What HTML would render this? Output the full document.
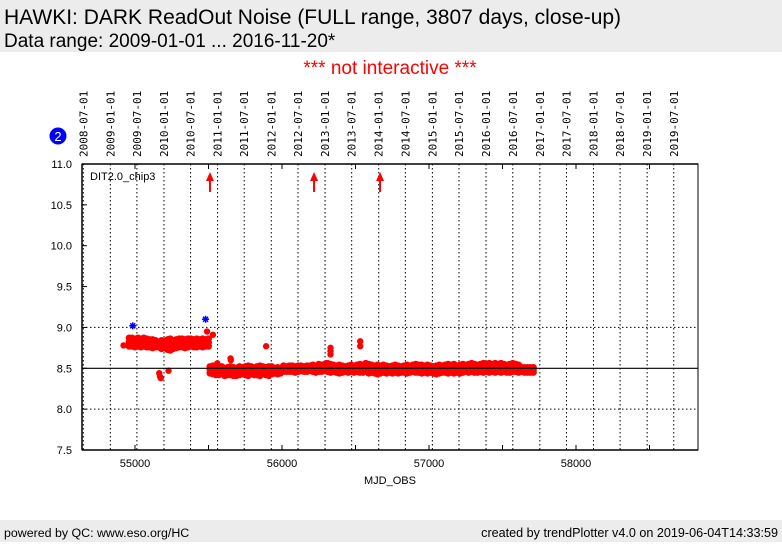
<!DOCTYPE html>
<html><head><meta charset="utf-8"><style>
body{margin:0;width:782px;height:542px;overflow:hidden;background:#fff;font-family:"Liberation Sans","DejaVu Sans",sans-serif}
</style></head><body>
<svg id="chart" width="782" height="542" xmlns="http://www.w3.org/2000/svg" font-family="Liberation Sans, DejaVu Sans, sans-serif">
<rect x="0" y="0" width="782" height="52" fill="#ececec"/>
<text x="4" y="24" font-size="21">HAWKI: DARK ReadOut Noise (FULL range, 3807 days, close-up)</text>
<text x="4" y="47" font-size="19">Data range: 2009-01-01 ... 2016-11-20*</text>
<text x="390" y="74" font-size="19" fill="#ff0000" text-anchor="middle">*** not interactive ***</text>
<circle cx="58" cy="136" r="8.5" fill="#0000ff"/>
<text x="58" y="141" font-size="13" fill="#fff" text-anchor="middle">2</text>
<g id="grid"></g>
<g id="pts"></g>
<line x1="82" y1="368.3" x2="698" y2="368.3" stroke="#000" stroke-width="1.2"/>
<g id="axes"></g>
<text x="90" y="180" font-size="11">DIT2.0_chip3</text>
<text x="390" y="484" font-size="11" text-anchor="middle">MJD_OBS</text>
<rect x="0" y="520" width="782" height="22" fill="#ececec"/>
<text x="4" y="537" font-size="12.4">powered by QC: www.eso.org/HC</text>
<text x="778" y="537" font-size="12.6" text-anchor="end">created by trendPlotter v4.0 on 2019-06-04T14:33:59</text>
</svg>
<script>
const dateLabels=["2008-07-01","2009-01-01","2009-07-01","2010-01-01","2010-07-01","2011-01-01","2011-07-01","2012-01-01","2012-07-01","2013-01-01","2013-07-01","2014-01-01","2014-07-01","2015-01-01","2015-07-01","2016-01-01","2016-07-01","2017-01-01","2017-07-01","2018-01-01","2018-07-01","2019-01-01","2019-07-01"];
const dateMjd=[54648,54832,55013,55197,55378,55562,55743,55927,56109,56293,56474,56658,56839,57023,57204,57388,57570,57754,57935,58119,58300,58484,58665];
const yTicks=[7.5,8.0,8.5,9.0,9.5,10.0,10.5,11.0];
const xTicks=[55000,56000,57000,58000];
const bandMjd=[54960,54980,55000,55020,55040,55060,55080,55100,55120,55140,55160,55180,55200,55220,55240,55260,55280,55300,55320,55340,55360,55380,55400,55420,55440,55460,55480,55500,
55510,55530,55550,55570,55590,55610,55630,55650,55670,55690,55710,55730,55750,55770,55790,55810,55830,55850,55870,55890,55910,55930,55950,55970,55990,56010,56030,56050,56070,56090,56110,56130,56150,56170,56190,56210,56230,56250,56270,56290,56310,56330,56350,56370,56390,56410,56430,56450,56470,56490,56510,56530,56550,56570,56590,56610,56630,56650,56670,56690,56710,56730,56750,56770,56790,56810,56830,56850,56870,56890,56910,56930,56950,56970,56990,57010,57030,57050,57070,57090,57110,57130,57150,57170,57190,57210,57230,57250,57270,57290,57310,57330,57350,57370,57390,57410,57430,57450,57470,57490,57510,57530,57550,57570,57590,57610,57630,57650,57670,57690,57710];
const bandHi=[8.87,8.87,8.86,8.87,8.86,8.87,8.86,8.85,8.85,8.84,8.82,8.84,8.83,8.85,8.86,8.84,8.85,8.86,8.86,8.85,8.86,8.86,8.85,8.86,8.85,8.86,8.85,8.86,
8.52,8.53,8.52,8.51,8.52,8.50,8.51,8.52,8.51,8.50,8.52,8.51,8.52,8.53,8.52,8.51,8.52,8.53,8.52,8.51,8.52,8.52,8.50,8.51,8.50,8.53,8.52,8.53,8.53,8.52,8.53,8.53,8.52,8.53,8.53,8.54,8.53,8.55,8.54,8.55,8.56,8.55,8.54,8.53,8.54,8.53,8.52,8.53,8.54,8.53,8.54,8.55,8.54,8.56,8.55,8.54,8.53,8.54,8.53,8.54,8.53,8.52,8.53,8.54,8.53,8.52,8.53,8.54,8.53,8.54,8.55,8.54,8.54,8.53,8.54,8.53,8.52,8.53,8.54,8.53,8.54,8.55,8.54,8.55,8.53,8.54,8.55,8.54,8.55,8.56,8.55,8.54,8.55,8.56,8.55,8.56,8.55,8.56,8.55,8.56,8.55,8.54,8.55,8.56,8.55,8.54,8.51];
const bandLo=[8.77,8.77,8.76,8.77,8.76,8.77,8.76,8.76,8.75,8.76,8.76,8.74,8.76,8.73,8.72,8.74,8.75,8.76,8.76,8.75,8.76,8.77,8.76,8.76,8.77,8.76,8.77,8.77,
8.44,8.43,8.42,8.42,8.43,8.41,8.42,8.42,8.41,8.41,8.42,8.43,8.42,8.41,8.43,8.42,8.42,8.41,8.43,8.42,8.41,8.43,8.44,8.43,8.44,8.46,8.46,8.46,8.46,8.45,8.46,8.47,8.46,8.46,8.47,8.46,8.45,8.46,8.46,8.47,8.46,8.45,8.46,8.45,8.44,8.45,8.46,8.45,8.46,8.45,8.46,8.45,8.45,8.46,8.44,8.45,8.44,8.43,8.44,8.45,8.44,8.45,8.44,8.45,8.44,8.45,8.45,8.44,8.45,8.46,8.45,8.45,8.44,8.45,8.44,8.45,8.44,8.43,8.44,8.45,8.45,8.44,8.45,8.44,8.45,8.44,8.45,8.46,8.45,8.46,8.45,8.45,8.46,8.45,8.46,8.45,8.46,8.45,8.46,8.45,8.46,8.45,8.45,8.46,8.46,8.45,8.46,8.45,8.45];
const outMjd=[54922,55165,55170,55175,55228,55490,55530,55560,55650,55652,55892,56330,56330,56330,56532,56532];
const outVal=[8.78,8.44,8.40,8.38,8.47,8.95,8.91,8.56,8.62,8.60,8.77,8.75,8.71,8.67,8.83,8.77];
const starMjd=[54985,55480];
const starVal=[9.02,9.10];
const arrowMjd=[55510,56218,56667];

const X0=82,X1=698,Y0=164,Y1=450;
const xs=m=>135+(m-55000)*0.147;
const ys=v=>Y0+(11-v)*(Y1-Y0)/3.5;
const NS="http://www.w3.org/2000/svg";
function mk(tag,attrs,parent,txt){const e=document.createElementNS(NS,tag);for(const k in attrs)e.setAttribute(k,attrs[k]);if(txt!==undefined)e.textContent=txt;parent.appendChild(e);return e;}
const grid=document.getElementById('grid'),pts=document.getElementById('pts'),axes=document.getElementById('axes');
dateMjd.forEach((m,i)=>{const x=xs(m);
 const l=mk('line',{x1:x,y1:Y0,x2:x,y2:Y1,stroke:'#000','stroke-width':1,'stroke-dasharray':'1.5,2.5'},grid);
 
 
 const t=mk('text',{x:0,y:0,'font-size':11,'font-family':'DejaVu Sans Mono, Liberation Mono, monospace',transform:`translate(${x+4},157) rotate(-90)`},grid,dateLabels[i]);
 
 
});
[8.0,9.0].forEach(v=>{const l=mk('line',{x1:X0,y1:ys(v),x2:X1,y2:ys(v),stroke:'#000','stroke-width':1,'stroke-dasharray':'1.5,2.5'},grid);
 
 
});
bandMjd.forEach((m,i)=>{
 const hi=bandHi[Math.min(i,bandHi.length-1)],lo=bandLo[Math.min(i,bandLo.length-1)];
 [hi,(hi+lo)/2,lo].forEach(v=>{
 if(!isFinite(v))return;
 const c=mk('circle',{cx:xs(m),cy:ys(v),r:3.5,fill:'#ff0000'},pts);
 
 
});});
outMjd.forEach((m,i)=>{const c=mk('circle',{cx:xs(m),cy:ys(outVal[i]),r:3.2,fill:'#ff0000'},pts);
 
 
});
starMjd.forEach((m,i)=>{const x=xs(m),y=ys(starVal[i]);
 const g=mk('g',{stroke:'#0000ff','stroke-width':1.5},pts);
 
 
 mk('line',{x1:x-3.5,y1:y,x2:x+3.5,y2:y},g);
 mk('line',{x1:x,y1:y-3.5,x2:x,y2:y+3.5},g);
 mk('line',{x1:x-2.5,y1:y-2.5,x2:x+2.5,y2:y+2.5},g);
 mk('line',{x1:x-2.5,y1:y+2.5,x2:x+2.5,y2:y-2.5},g);
});
arrowMjd.forEach(m=>{const x=xs(m);
 const g=mk('g',{},pts);
 
 
 mk('line',{x1:x,y1:192,x2:x,y2:178,stroke:'#ff0000','stroke-width':2},g);
 mk('polygon',{points:`${x-4},181 ${x},172 ${x+4},181`,fill:'#ff0000'},g);
});
mk('rect',{x:X0,y:Y0,width:X1-X0,height:Y1-Y0,fill:'none',stroke:'#000','stroke-width':1},axes);
mk('line',{x1:X0,y1:Y0,x2:X1,y2:Y0,stroke:'#000','stroke-width':1.5},axes);
mk('line',{x1:X0,y1:Y1,x2:X1,y2:Y1,stroke:'#000','stroke-width':1.5},axes);
mk('line',{x1:X0,y1:Y0,x2:X0,y2:Y1,stroke:'#000','stroke-width':1.5},axes);
yTicks.forEach(v=>{const y=ys(v);
 mk('line',{x1:X0,y1:y,x2:X0+5,y2:y,stroke:'#000'},axes);
 const t=mk('text',{x:X0-10,y:y+4,'font-size':11,'text-anchor':'end'},axes,v.toFixed(1));
 
 
});
for(let m=54500;m<=58800;m+=500){const x=xs(m);if(x<X0||x>X1)continue;
 mk('line',{x1:x,y1:Y1,x2:x,y2:Y1-5,stroke:'#000'},axes);
 mk('line',{x1:x,y1:Y0,x2:x,y2:Y0+5,stroke:'#000'},axes);}
xTicks.forEach(m=>{const t=mk('text',{x:xs(m),y:467,'font-size':11,'text-anchor':'middle'},axes,String(m));
 
 
});
</script>
</body></html>
